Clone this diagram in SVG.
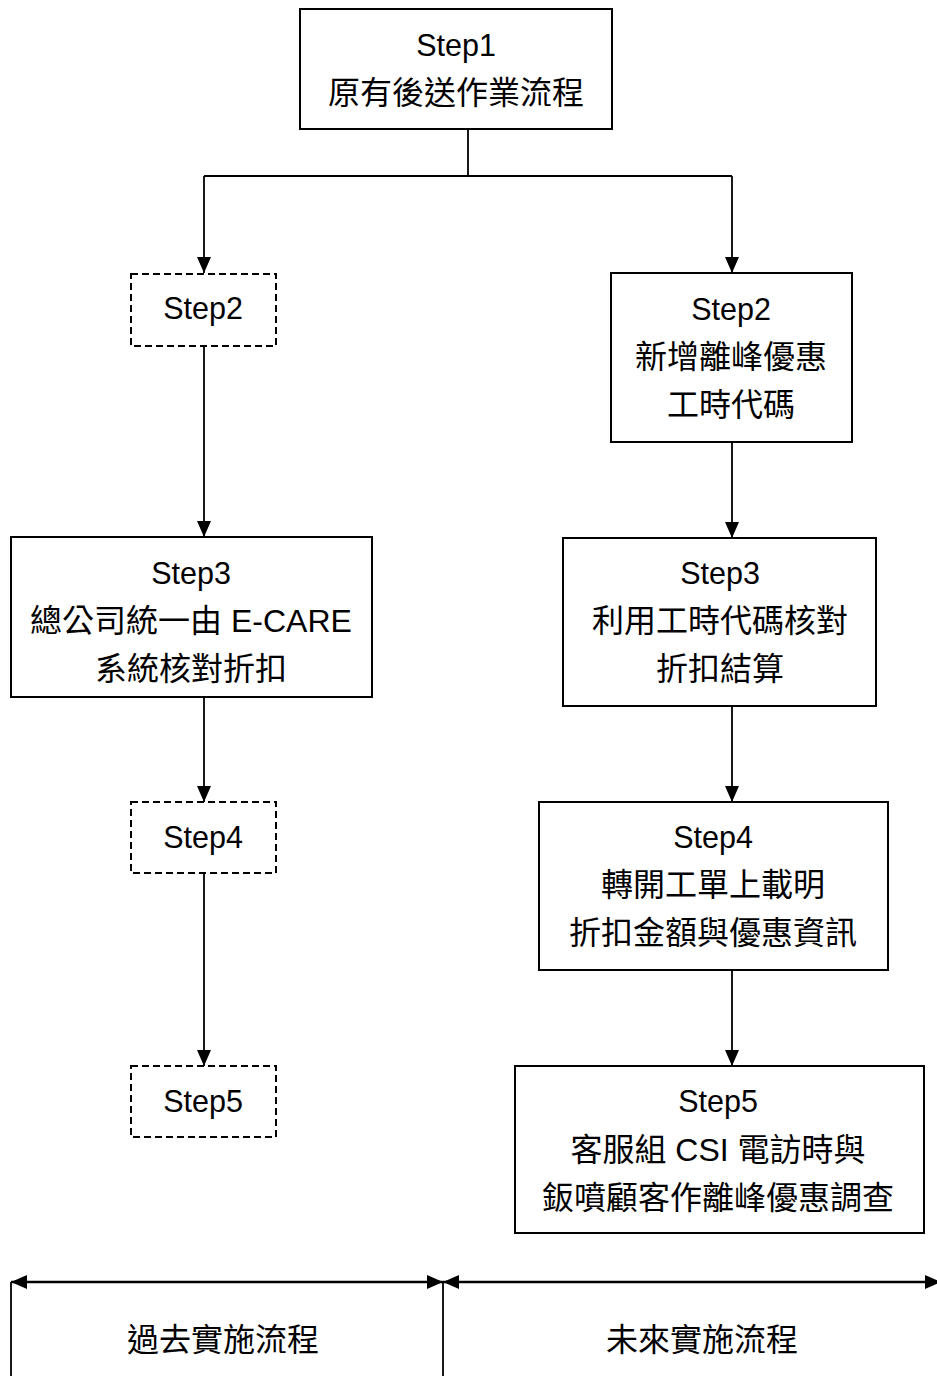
<svg xmlns="http://www.w3.org/2000/svg" width="937" height="1376" viewBox="0 0 937 1376">
<style>
.box{fill:#fff;stroke:#000;stroke-width:2}
.dash{fill:#fff;stroke:#000;stroke-width:2;stroke-dasharray:7 4}
.st{font-family:"Liberation Sans","Noto Sans CJK TC",sans-serif;font-size:30.5px;fill:#000;text-anchor:middle}
.zh{font-family:"Liberation Sans","Noto Sans CJK TC",sans-serif;font-size:32px;fill:#000;text-anchor:middle}
.ln{fill:none;stroke:#000;stroke-width:1.8}
.thick{fill:none;stroke:#000;stroke-width:2.5}
</style>
<defs>
<marker id="arr" viewBox="0 0 16 14" refX="16" refY="7" markerWidth="16" markerHeight="14" orient="auto-start-reverse" markerUnits="userSpaceOnUse">
<path d="M0,0 L16,7 L0,14 z" fill="#000"/>
</marker>
</defs>
<rect width="937" height="1376" fill="#fff"/>
<g id="connectors">
<path class="ln" d="M468,129 V176 M204,176 H732"/>
<line class="ln" x1="204" y1="176" x2="204" y2="273" marker-end="url(#arr)"/>
<line class="ln" x1="732" y1="176" x2="732" y2="273" marker-end="url(#arr)"/>
<line class="ln" x1="204" y1="346" x2="204" y2="537" marker-end="url(#arr)"/>
<line class="ln" x1="204" y1="697" x2="204" y2="802" marker-end="url(#arr)"/>
<line class="ln" x1="204" y1="873" x2="204" y2="1066" marker-end="url(#arr)"/>
<line class="ln" x1="732" y1="442" x2="732" y2="538" marker-end="url(#arr)"/>
<line class="ln" x1="732" y1="706" x2="732" y2="802" marker-end="url(#arr)"/>
<line class="ln" x1="732" y1="970" x2="732" y2="1066" marker-end="url(#arr)"/>
<line class="thick" x1="11" y1="1282" x2="443" y2="1282" marker-start="url(#arr)" marker-end="url(#arr)"/>
<line class="thick" x1="443" y1="1282" x2="941" y2="1282" marker-start="url(#arr)" marker-end="url(#arr)"/>
<line class="ln" x1="11" y1="1282" x2="11" y2="1376"/>
<line class="ln" x1="443" y1="1282" x2="443" y2="1376"/>
</g>
<g id="step1">
<rect class="box" x="300" y="9" width="312" height="120"/>
<text class="st" x="456" y="56">Step1</text>
<text class="zh" x="456" y="104">原有後送作業流程</text>
</g>
<g id="past-step2">
<rect class="dash" x="131" y="274" width="145" height="72"/>
<text class="st" x="203" y="319">Step2</text>
</g>
<g id="past-step3">
<rect class="box" x="11" y="537" width="361" height="160"/>
<text class="st" x="191" y="584">Step3</text>
<text class="zh" x="191" y="632">總公司統一由 E-CARE</text>
<text class="zh" x="191" y="680">系統核對折扣</text>
</g>
<g id="past-step4">
<rect class="dash" x="131" y="802" width="145" height="71"/>
<text class="st" x="203" y="848">Step4</text>
</g>
<g id="past-step5">
<rect class="dash" x="131" y="1066" width="145" height="71"/>
<text class="st" x="203" y="1112">Step5</text>
</g>
<g id="future-step2">
<rect class="box" x="611" y="273" width="241" height="169"/>
<text class="st" x="731" y="320">Step2</text>
<text class="zh" x="731" y="368">新增離峰優惠</text>
<text class="zh" x="731" y="416">工時代碼</text>
</g>
<g id="future-step3">
<rect class="box" x="563" y="538" width="313" height="168"/>
<text class="st" x="720" y="584">Step3</text>
<text class="zh" x="720" y="632">利用工時代碼核對</text>
<text class="zh" x="720" y="680">折扣結算</text>
</g>
<g id="future-step4">
<rect class="box" x="539" y="802" width="349" height="168"/>
<text class="st" x="713" y="848">Step4</text>
<text class="zh" x="713" y="896">轉開工單上載明</text>
<text class="zh" x="713" y="944">折扣金額與優惠資訊</text>
</g>
<g id="future-step5">
<rect class="box" x="515" y="1066" width="409" height="167"/>
<text class="st" x="718" y="1112">Step5</text>
<text class="zh" x="718" y="1161">客服組 CSI 電訪時與</text>
<text class="zh" x="718" y="1209">鈑噴顧客作離峰優惠調查</text>
</g>
<g id="labels">
<text class="zh" x="223" y="1351">過去實施流程</text>
<text class="zh" x="702" y="1351">未來實施流程</text>
</g>
</svg>
